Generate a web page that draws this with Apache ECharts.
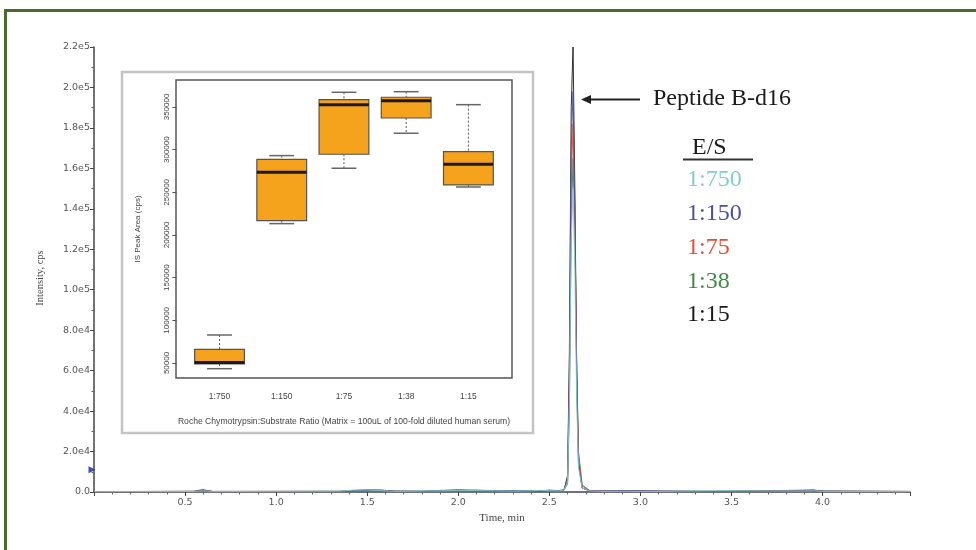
<!DOCTYPE html>
<html>
<head>
<meta charset="utf-8">
<script src="https://cdn.jsdelivr.net/npm/echarts@6/dist/echarts.min.js"></script>
<style>
  html, body { margin: 0; padding: 0; background: #fff; }
  #chart { width: 976px; height: 550px; }
</style>
</head>
<body>
<div id="chart"></div>
<script>
// chromatogram (time in min, intensity in cps)
var times = [0.00, 0.55, 0.58, 0.60, 0.62, 0.65, 1.35, 1.42, 1.50, 1.58,
  1.65, 1.80, 1.90, 2.00, 2.10, 2.20, 2.30, 2.40, 2.45, 2.50,
  2.55, 2.58, 2.60, 2.61, 2.62, 2.63, 2.64, 2.65, 2.66, 2.68,
  2.72, 2.80, 2.90, 3.00, 3.10, 3.40, 3.90, 3.95, 4.00, 4.48];
var es750 = [200, 250, 500, 600, 400, 200, 400, 900, 1000, 700,
  300, 500, 600, 800, 700, 600, 500, 600, 800, 700,
  500, 900, 5000, 45000, 125000, 150000, 110000, 45000, 12000, 2000,
  500, 300, 400, 300, 300, 600, 500, 600, 300, 200];
var es150 = [250, 300, 600, 700, 500, 300, 300, 600, 800, 900,
  400, 400, 800, 1000, 900, 700, 600, 700, 600, 900,
  700, 1000, 6000, 60000, 170000, 198000, 140000, 55000, 14000, 2000,
  600, 500, 700, 600, 500, 300, 600, 700, 400, 250];
var es75 = [200, 300, 700, 800, 500, 250, 300, 500, 700, 600,
  300, 300, 500, 700, 600, 500, 400, 500, 700, 600,
  500, 900, 5000, 50000, 150000, 182000, 135000, 60000, 18000, 3000,
  700, 400, 400, 400, 300, 300, 700, 800, 300, 200];
var es38 = [200, 300, 600, 900, 600, 250, 300, 800, 1100, 900,
  400, 300, 600, 900, 800, 600, 500, 500, 600, 800,
  600, 800, 4000, 40000, 130000, 165000, 130000, 65000, 20000, 3500,
  800, 400, 500, 400, 300, 300, 900, 1000, 400, 250];
var es15 = [200, 300, 900, 1100, 700, 250, 300, 700, 900, 800,
  400, 300, 700, 900, 600, 500, 700, 500, 600, 800,
  600, 1000, 8000, 70000, 190000, 220000, 150000, 60000, 15000, 2000,
  600, 400, 500, 500, 400, 300, 800, 900, 400, 300];

// inset box plot: IS peak area (cps) per E/S ratio
var ratios = ['1:750', '1:150', '1:75', '1:38', '1:15'];
var boxMin = [43300, 213300, 278200, 319200, 256200];
var boxQ1 = [48800, 216800, 294600, 337100, 258600];
var boxMed = [50600, 273500, 352700, 357400, 282800];
var boxQ3 = [66000, 288700, 358600, 361400, 297600];
var boxMax = [82800, 293000, 367200, 367900, 352700];
var insetTicks = [50000, 100000, 150000, 200000, 250000, 300000, 350000];

var legendNames = ['1:750', '1:150', '1:75', '1:38', '1:15'];
var legendColors = ['#7fcfcf', '#4b4fa8', '#ec4a33', '#3d8a45', '#1a1a1a'];

function pairs(ys) {
  return times.map(function (t, i) { return [t, ys[i]]; });
}

function initChart() {
  var chart = echarts.init(document.getElementById('chart'));
  var serif = 'Liberation Serif';
  var allSeries = [es750, es150, es75, es38, es15];

  var lineSeries = allSeries.map(function (ys, k) {
    var s = {
      name: legendNames[k],
      type: 'line',
      xAxisIndex: 0,
      yAxisIndex: 0,
      data: pairs(ys),
      showSymbol: false,
      lineStyle: { color: legendColors[k], width: 1, opacity: 0.9 },
      itemStyle: { color: legendColors[k] },
      z: 8 - k
    };
    if (k === 1) {
      s.markPoint = {
        symbol: 'triangle',
        symbolRotate: -90,
        symbolSize: 7,
        symbolOffset: [-2, 0],
        label: { show: false },
        itemStyle: { color: '#3b4fb0' },
        data: [{ coord: [0, 11000] }]
      };
    }
    return s;
  });

  var boxSeries = {
    type: 'custom',
    xAxisIndex: 1,
    yAxisIndex: 1,
    z: 20,
    data: ratios.map(function (r, i) {
      return [i, boxMin[i], boxQ1[i], boxMed[i], boxQ3[i], boxMax[i]];
    }),
    encode: { x: 0, y: [1, 2, 3, 4, 5] },
    renderItem: function (params, api) {
      var i = api.value(0);
      var lo = api.coord([i, api.value(1)]);
      var q1 = api.coord([i, api.value(2)]);
      var md = api.coord([i, api.value(3)]);
      var q3 = api.coord([i, api.value(4)]);
      var hi = api.coord([i, api.value(5)]);
      var bw = api.size([1, 0])[0] * 0.8;
      var half = bw / 2, cap = bw / 4, x = lo[0];
      var dash = { stroke: '#555', lineWidth: 1, lineDash: [2, 2] };
      var capStyle = { stroke: '#666', lineWidth: 1.5 };
      return {
        type: 'group',
        children: [
          { type: 'line', shape: { x1: x, y1: hi[1], x2: x, y2: q3[1] }, style: dash },
          { type: 'line', shape: { x1: x, y1: q1[1], x2: x, y2: lo[1] }, style: dash },
          { type: 'line', shape: { x1: x - cap, y1: hi[1], x2: x + cap, y2: hi[1] }, style: capStyle },
          { type: 'line', shape: { x1: x - cap, y1: lo[1], x2: x + cap, y2: lo[1] }, style: capStyle },
          { type: 'rect', shape: { x: x - half, y: q3[1], width: bw, height: q1[1] - q3[1] },
            style: { fill: '#f5a21c', stroke: '#555', lineWidth: 1.2 } },
          { type: 'line', shape: { x1: x - half, y1: md[1], x2: x + half, y2: md[1] },
            style: { stroke: '#1a1a1a', lineWidth: 3 } }
        ]
      };
    }
  };

  var legendText = legendNames.map(function (n, k) {
    return {
      type: 'text', left: 687, top: 168 + k * 33.8, z: 50,
      style: { text: n, fill: legendColors[k], font: '24px ' + serif }
    };
  });

  var option = {
    animation: false,
    backgroundColor: '#fff',
    grid: [
      { left: 94, top: 47, right: 66, bottom: 58 },
      { left: 188.4, top: 80, right: 476.5, bottom: 172 }
    ],
    xAxis: [
      {
        type: 'value', gridIndex: 0, min: 0, max: 4.48, interval: 0.5, z: 5,
        axisLine: { lineStyle: { color: '#444', width: 1.5 } },
        axisTick: { length: 4, lineStyle: { color: '#444' } },
        minorTick: { show: true, splitNumber: 5, length: 2.5, lineStyle: { color: '#666' } },
        splitLine: { show: false },
        axisLabel: {
          margin: 6, color: '#555', fontSize: 9.5, fontFamily: 'DejaVu Sans',
          formatter: function (v) {
            return (v > 0 && Math.abs(v * 2 - Math.round(v * 2)) < 1e-6) ? v.toFixed(1) : '';
          }
        }
      },
      {
        type: 'category', gridIndex: 1, data: ratios, boundaryGap: true, z: 25,
        axisLine: { show: false },
        axisTick: { alignWithLabel: true, length: 4, lineStyle: { color: '#555' } },
        axisLabel: { margin: 14, color: '#444', fontSize: 8.5, fontFamily: 'Liberation Sans' },
        splitLine: { show: false }
      }
    ],
    yAxis: [
      {
        type: 'value', gridIndex: 0, min: 0, max: 220000, interval: 20000, z: 5,
        axisLine: { show: true, lineStyle: { color: '#444', width: 1.5 } },
        axisTick: { show: true, length: 4, lineStyle: { color: '#444' } },
        minorTick: { show: true, splitNumber: 2, length: 2.5, lineStyle: { color: '#666' } },
        splitLine: { show: false },
        axisLabel: {
          margin: 4, color: '#555', fontSize: 9.5, fontFamily: 'DejaVu Sans',
          formatter: function (v) {
            return v === 0 ? '0.0' : v.toExponential(1).replace('+', '');
          }
        }
      },
      {
        type: 'value', gridIndex: 1, min: 32400, max: 381600, offset: 12, z: 25,
        axisLine: { show: false },
        axisTick: { show: true, length: 4, customValues: insetTicks, lineStyle: { color: '#555' } },
        splitLine: { show: false },
        axisLabel: {
          customValues: insetTicks, rotate: 90, margin: 6,
          color: '#444', fontSize: 8, fontFamily: 'Liberation Sans',
          formatter: function (v) { return String(Math.round(v)); }
        }
      }
    ],
    graphic: [
      // green page frame (left and top only)
      { type: 'line', z: 0, shape: { x1: 5.5, y1: 9, x2: 5.5, y2: 550 }, style: { stroke: '#4b6a2c', lineWidth: 3 } },
      { type: 'line', z: 0, shape: { x1: 4, y1: 10.5, x2: 976, y2: 10.5 }, style: { stroke: '#4b6a2c', lineWidth: 3 } },
      // inset outer box and plot frame
      { type: 'rect', z: 10, shape: { x: 122, y: 72, width: 411, height: 361 },
        style: { fill: '#fff', stroke: '#c4c4c4', lineWidth: 2.5 } },
      { type: 'rect', z: 30, shape: { x: 176, y: 80, width: 336, height: 298 },
        style: { fill: null, stroke: '#555', lineWidth: 1.5 } },
      { type: 'text', z: 30, x: 138, y: 229, rotation: Math.PI / 2,
        style: { text: 'IS Peak Area (cps)', fill: '#444', font: '8px Liberation Sans', align: 'center', verticalAlign: 'middle' } },
      { type: 'text', z: 30, x: 344, y: 422,
        style: { text: 'Roche Chymotrypsin:Substrate Ratio (Matrix = 100uL of 100-fold diluted human serum)',
          fill: '#444', font: '8.6px Liberation Sans', align: 'center', verticalAlign: 'middle' } },
      // main axis titles
      { type: 'text', z: 30, x: 40, y: 278, rotation: Math.PI / 2,
        style: { text: 'Intensity, cps', fill: '#444', font: '10.5px ' + serif, align: 'center', verticalAlign: 'middle' } },
      { type: 'text', z: 30, x: 502, y: 518,
        style: { text: 'Time, min', fill: '#444', font: '11px ' + serif, align: 'center', verticalAlign: 'middle' } },
      // peak annotation
      { type: 'line', z: 30, shape: { x1: 588, y1: 99.5, x2: 640, y2: 99.5 }, style: { stroke: '#222', lineWidth: 2 } },
      { type: 'polygon', z: 30, shape: { points: [[581, 99.5], [591, 95], [591, 104]] }, style: { fill: '#222' } },
      { type: 'text', z: 30, x: 653, y: 99,
        style: { text: 'Peptide B-d16', fill: '#1a1a1a', font: '24px ' + serif, verticalAlign: 'middle' } },
      { type: 'text', z: 30, x: 692, y: 148,
        style: { text: 'E/S', fill: '#1a1a1a', font: '24px ' + serif, verticalAlign: 'middle' } },
      { type: 'line', z: 30, shape: { x1: 683, y1: 159.5, x2: 753, y2: 159.5 }, style: { stroke: '#333', lineWidth: 2 } }
    ].concat(legendText),
    series: lineSeries.concat([boxSeries])
  };
  chart.setOption(option);
}

document.addEventListener('DOMContentLoaded', function () {
  initChart();
});
</script>
</body>
</html>
